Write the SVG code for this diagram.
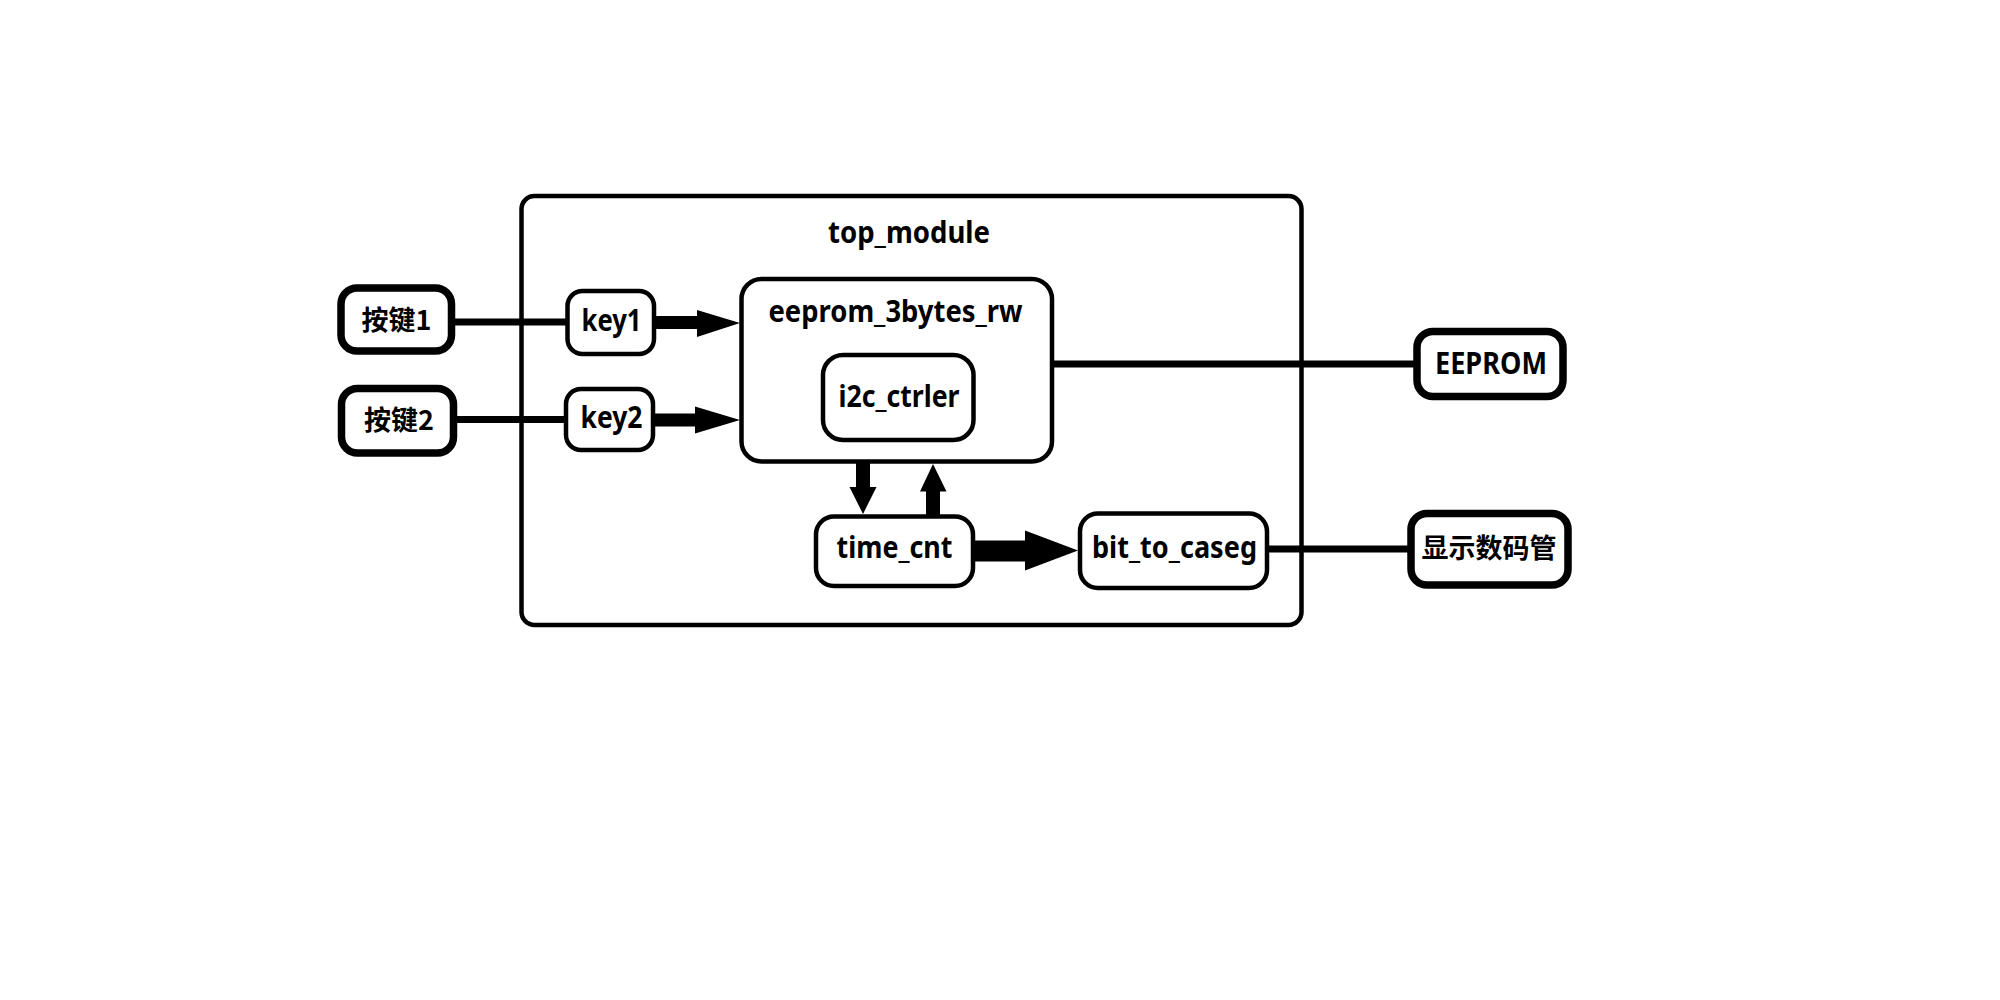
<svg xmlns="http://www.w3.org/2000/svg" width="2000" height="1000" viewBox="0 0 2000 1000">
  <style>
    .frame { fill: none; stroke: #000; stroke-width: 4.5; }
    .box { fill: #fff; stroke: #000; stroke-width: 4.5; }
    .port { fill: #fff; stroke: #000; stroke-width: 7.5; }
    .wire { stroke: #000; stroke-width: 7; fill: none; }
    .arrow { fill: #000; stroke: none; }
    text { font-family: "Noto Sans", "Open Sans", "Noto Sans CJK SC", sans-serif; font-weight: bold; font-size: 30px; fill: #000; text-anchor: middle; }
    .cjk { font-family: "Noto Sans CJK SC", "Noto Sans", sans-serif; font-size: 27px; }
  </style>
  <rect width="2000" height="1000" fill="#fff"/>

  <!-- enclosing top-level module -->
  <g id="top_module">
    <rect class="frame" x="521.5" y="196" width="780" height="429" rx="13" ry="13"/>
    <text x="909" y="243" textLength="162" lengthAdjust="spacingAndGlyphs">top_module</text>
  </g>

  <!-- wires and data arrows -->
  <g id="connectors">
    <line class="wire" x1="451" y1="322" x2="567" y2="322"/>
    <line class="wire" x1="453" y1="419.5" x2="566" y2="419.5"/>
    <line class="wire" x1="1052" y1="364" x2="1417" y2="364"/>
    <line class="wire" x1="1267" y1="549" x2="1411" y2="549"/>
    <path class="arrow" d="M655,316 L697,316 L697,310 L740,323 L697,337 L697,329 L655,329 Z"/>
    <path class="arrow" d="M655,413.5 L695,413.5 L695,406.5 L740,420 L695,433.5 L695,426.5 L655,426.5 Z"/>
    <path class="arrow" d="M856,463 L856,487 L849.5,487 L863,514 L876.5,487 L870,487 L870,463 Z"/>
    <path class="arrow" d="M926,516 L926,491.5 L920,491.5 L933,464 L946.5,491.5 L940,491.5 L940,516 Z"/>
    <path class="arrow" d="M973,540.5 L1025,540.5 L1025,530.5 L1078,550.5 L1025,570.5 L1025,561.5 L973,561.5 Z"/>
  </g>

  <!-- external inputs -->
  <g id="btn1">
    <rect class="port" x="341" y="288" width="110.5" height="63" rx="16" ry="16"/>
    <text class="cjk" x="396.5" y="330">按键1</text>
  </g>
  <g id="btn2">
    <rect class="port" x="341.5" y="388.5" width="112" height="64.5" rx="16" ry="16"/>
    <text class="cjk" x="399" y="430">按键2</text>
  </g>

  <!-- internal blocks -->
  <g id="key1">
    <rect class="box" x="567.5" y="291" width="86.5" height="63" rx="15" ry="15"/>
    <text x="611.5" y="330.5" textLength="60" lengthAdjust="spacingAndGlyphs">key1</text>
  </g>
  <g id="key2">
    <rect class="box" x="566" y="389" width="87" height="61" rx="15" ry="15"/>
    <text x="611.5" y="427.5" textLength="62" lengthAdjust="spacingAndGlyphs">key2</text>
  </g>
  <g id="eeprom_3bytes_rw">
    <rect class="box" x="741.5" y="279" width="310.5" height="182.5" rx="20" ry="20"/>
    <text x="895.5" y="321.5" textLength="254" lengthAdjust="spacingAndGlyphs">eeprom_3bytes_rw</text>
  </g>
  <g id="i2c_ctrler">
    <rect class="box" x="823" y="355" width="150.5" height="85" rx="20" ry="20"/>
    <text x="899" y="406.5" textLength="121" lengthAdjust="spacingAndGlyphs">i2c_ctrler</text>
  </g>
  <g id="time_cnt">
    <rect class="box" x="816" y="516.5" width="157" height="69.5" rx="18" ry="18"/>
    <text x="894.5" y="558" textLength="116" lengthAdjust="spacingAndGlyphs">time_cnt</text>
  </g>
  <g id="bit_to_caseg">
    <rect class="box" x="1080" y="513.5" width="187" height="74.5" rx="18" ry="18"/>
    <text x="1174.5" y="558" textLength="165" lengthAdjust="spacingAndGlyphs">bit_to_caseg</text>
  </g>

  <!-- external outputs -->
  <g id="eeprom_chip">
    <rect class="port" x="1417" y="331.5" width="146" height="65" rx="16" ry="16"/>
    <text x="1491" y="373.5" textLength="112" lengthAdjust="spacingAndGlyphs">EEPROM</text>
  </g>
  <g id="display">
    <rect class="port" x="1411" y="513.5" width="157" height="71.5" rx="16" ry="16"/>
    <text class="cjk" x="1489" y="557.5">显示数码管</text>
  </g>
</svg>
